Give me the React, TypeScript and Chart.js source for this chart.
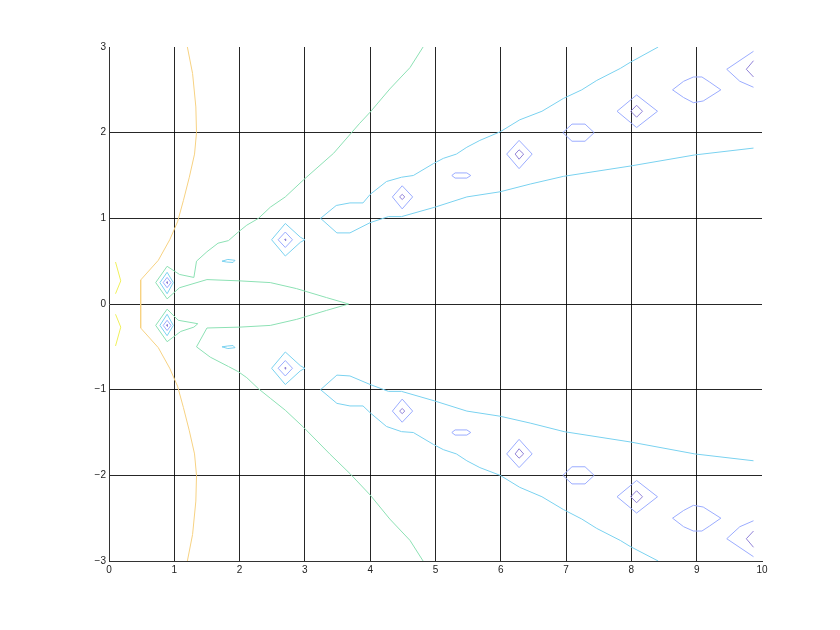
import React, { useEffect, useRef } from 'react';
import { Chart, registerables } from 'chart.js';
Chart.register(...registerables);

type Pt = [number, number];

const xTicks = [0, 1, 2, 3, 4, 5, 6, 7, 8, 9, 10];
const yTicks = [-3, -2, -1, 0, 1, 2, 3];

// ---- level: yellow ----
const yellowUpper: Pt[] = [[0.10, 0.49], [0.18, 0.27], [0.10, 0.12]];
const yellowLower: Pt[] = [[0.10, -0.12], [0.18, -0.27], [0.10, -0.49]];

// ---- level: orange ----
const orangeArc: Pt[] = [
  [1.20, 3.0], [1.28, 2.69], [1.33, 2.30], [1.34, 2.0], [1.31, 1.75], [1.23, 1.48],
  [1.14, 1.21], [1.05, 0.96], [0.93, 0.75], [0.755, 0.51], [0.485, 0.28],
  [0.485, -0.28], [0.755, -0.51], [0.93, -0.75], [1.05, -0.96], [1.14, -1.21],
  [1.23, -1.48], [1.31, -1.75], [1.34, -2.0], [1.33, -2.30], [1.28, -2.69], [1.20, -3.0],
];

// ---- level: green ----
const greenMain: Pt[] = [
  [4.81, 3.0], [4.61, 2.76], [4.30, 2.51], [4.0, 2.24], [3.84, 2.11], [3.44, 1.76],
  [2.98, 1.45], [2.70, 1.25], [2.47, 1.13], [2.29, 1.0], [2.11, 0.92], [1.98, 0.84],
  [1.83, 0.74], [1.67, 0.71], [1.50, 0.61], [1.34, 0.50], [1.30, 0.31], [1.08, 0.345],
  [0.89, 0.44], [0.715, 0.25], [0.89, 0.06], [1.08, 0.19], [1.50, 0.285], [2.0, 0.27],
  [2.47, 0.25], [2.87, 0.18], [3.33, 0.075], [3.67, 0.0], [3.33, -0.075], [2.87, -0.18],
  [2.47, -0.25], [2.0, -0.27], [1.50, -0.28], [1.34, -0.50], [1.55, -0.62], [1.83, -0.73],
  [1.98, -0.79], [2.11, -0.86], [2.29, -0.99], [2.47, -1.10], [2.70, -1.24], [2.98, -1.44],
  [3.38, -1.75], [3.69, -1.98], [4.0, -2.23], [4.30, -2.51], [4.61, -2.76], [4.81, -3.0],
];
const greenLowerLoop: Pt[] = [
  [0.89, -0.06], [1.06, -0.19], [1.36, -0.23], [1.30, -0.27], [1.10, -0.32],
  [0.89, -0.44], [0.715, -0.25], [0.89, -0.06],
];

// ---- level: cyan ----
const cyanTearUpper: Pt[] = [[1.73, 0.50], [1.82, 0.52], [1.93, 0.51], [1.90, 0.485], [1.80, 0.49], [1.73, 0.50]];
const cyanTearLower: Pt[] = [[1.73, -0.50], [1.82, -0.49], [1.90, -0.485], [1.93, -0.51], [1.82, -0.52], [1.73, -0.50]];
const cyanRingAUpper: Pt[] = [[0.89, 0.37], [0.985, 0.25], [0.89, 0.12], [0.78, 0.25], [0.89, 0.37]];
const cyanRingALower: Pt[] = [[0.89, -0.12], [0.985, -0.25], [0.89, -0.37], [0.78, -0.25], [0.89, -0.12]];
const cyanRingBUpper: Pt[] = [[2.70, 0.94], [2.93, 0.78], [3.0, 0.75], [2.93, 0.72], [2.70, 0.56], [2.49, 0.75], [2.70, 0.94]];
const cyanRingBLower: Pt[] = [[2.70, -0.56], [2.93, -0.72], [3.0, -0.75], [2.93, -0.78], [2.70, -0.94], [2.49, -0.75], [2.70, -0.56]];
const cyanBandUpper: Pt[] = [
  [8.41, 3.0], [7.98, 2.82], [7.83, 2.75], [7.47, 2.61], [7.24, 2.50], [6.96, 2.40],
  [6.63, 2.25], [6.29, 2.15], [5.99, 2.01], [5.68, 1.91], [5.48, 1.83], [5.32, 1.75],
  [5.12, 1.70], [4.97, 1.64], [4.66, 1.50], [4.48, 1.48], [4.25, 1.43], [4.0, 1.28],
  [3.89, 1.18], [3.69, 1.18], [3.48, 1.15], [3.24, 1.0], [3.49, 0.83], [3.69, 0.83],
  [4.0, 0.95], [4.28, 1.02], [4.48, 1.02], [4.99, 1.13], [5.48, 1.25], [5.99, 1.31],
  [6.45, 1.40], [6.96, 1.49], [7.98, 1.61], [8.97, 1.74], [9.87, 1.82],
];
const cyanBandLower: Pt[] = [
  [8.41, -3.0], [7.98, -2.83], [7.83, -2.76], [7.47, -2.62], [7.24, -2.51], [6.96, -2.40],
  [6.63, -2.25], [6.29, -2.14], [5.99, -2.0], [5.68, -1.91], [5.48, -1.83], [5.32, -1.75],
  [5.12, -1.70], [4.97, -1.64], [4.66, -1.50], [4.48, -1.49], [4.25, -1.43], [4.0, -1.27],
  [3.89, -1.19], [3.69, -1.19], [3.49, -1.16], [3.24, -1.0], [3.49, -0.83], [3.69, -0.84],
  [4.0, -0.94], [4.28, -1.02], [4.48, -1.02], [4.98, -1.13], [5.48, -1.25], [5.99, -1.31],
  [6.45, -1.39], [6.97, -1.49], [7.98, -1.61], [8.97, -1.75], [9.87, -1.83],
];

// ---- level: blue ----
const blueAUpper: Pt[] = [[0.89, 0.31], [0.95, 0.25], [0.89, 0.19], [0.83, 0.25], [0.89, 0.31]];
const blueALower: Pt[] = [[0.89, -0.19], [0.95, -0.25], [0.89, -0.31], [0.83, -0.25], [0.89, -0.19]];
const blueBUpper: Pt[] = [[2.70, 0.84], [2.81, 0.75], [2.70, 0.66], [2.59, 0.75], [2.70, 0.84]];
const blueBLower: Pt[] = [[2.70, -0.66], [2.81, -0.75], [2.70, -0.84], [2.59, -0.75], [2.70, -0.66]];
const blueCUpper: Pt[] = [[4.49, 1.38], [4.65, 1.25], [4.49, 1.11], [4.34, 1.25], [4.49, 1.38]];
const blueCLower: Pt[] = [[4.49, -1.11], [4.65, -1.25], [4.49, -1.38], [4.34, -1.25], [4.49, -1.11]];
const blueDUpper: Pt[] = [[5.25, 1.50], [5.30, 1.53], [5.48, 1.53], [5.54, 1.50], [5.48, 1.47], [5.30, 1.47], [5.25, 1.50]];
const blueDLower: Pt[] = [[5.25, -1.50], [5.30, -1.47], [5.48, -1.47], [5.54, -1.50], [5.48, -1.53], [5.30, -1.53], [5.25, -1.50]];
const blueEUpper: Pt[] = [[6.28, 1.91], [6.48, 1.75], [6.28, 1.58], [6.09, 1.75], [6.28, 1.91]];
const blueELower: Pt[] = [[6.28, -1.58], [6.48, -1.75], [6.28, -1.91], [6.09, -1.75], [6.28, -1.58]];
const blueFUpper: Pt[] = [[6.95, 2.0], [7.09, 2.10], [7.29, 2.10], [7.43, 2.0], [7.29, 1.90], [7.09, 1.90], [6.95, 2.0]];
const blueFLower: Pt[] = [[6.95, -2.0], [7.09, -1.90], [7.29, -1.90], [7.43, -2.0], [7.29, -2.10], [7.09, -2.10], [6.95, -2.0]];
const blueGUpper: Pt[] = [[8.08, 2.44], [8.40, 2.25], [8.08, 2.06], [7.78, 2.25], [8.08, 2.44]];
const blueGLower: Pt[] = [[8.08, -2.06], [8.40, -2.25], [8.08, -2.44], [7.78, -2.25], [8.08, -2.06]];
const blueHUpper: Pt[] = [[8.63, 2.50], [8.80, 2.60], [8.95, 2.65], [9.08, 2.65], [9.20, 2.59], [9.37, 2.50], [9.10, 2.37], [8.95, 2.35], [8.80, 2.41], [8.63, 2.50]];
const blueHLower: Pt[] = [[8.63, -2.50], [8.80, -2.41], [8.95, -2.35], [9.10, -2.37], [9.37, -2.50], [9.20, -2.59], [9.08, -2.65], [8.95, -2.65], [8.80, -2.60], [8.63, -2.50]];
const blueIUpper: Pt[] = [[9.87, 2.95], [9.46, 2.74], [9.66, 2.60], [9.87, 2.53]];
const blueILower: Pt[] = [[9.87, -2.53], [9.66, -2.60], [9.46, -2.74], [9.87, -2.95]];

// ---- level: purple ----
const purpleAUpper: Pt[] = [[0.89, 0.26], [0.90, 0.25], [0.89, 0.24], [0.88, 0.25], [0.89, 0.26]];
const purpleALower: Pt[] = [[0.89, -0.24], [0.90, -0.25], [0.89, -0.26], [0.88, -0.25], [0.89, -0.24]];
const purpleBUpper: Pt[] = [[2.70, 0.76], [2.71, 0.75], [2.70, 0.74], [2.69, 0.75], [2.70, 0.76]];
const purpleBLower: Pt[] = [[2.70, -0.74], [2.71, -0.75], [2.70, -0.76], [2.69, -0.75], [2.70, -0.74]];
const purpleCUpper: Pt[] = [[4.49, 1.28], [4.53, 1.25], [4.49, 1.22], [4.45, 1.25], [4.49, 1.28]];
const purpleCLower: Pt[] = [[4.49, -1.22], [4.53, -1.25], [4.49, -1.28], [4.45, -1.25], [4.49, -1.22]];
const purpleEUpper: Pt[] = [[6.28, 1.80], [6.35, 1.75], [6.28, 1.69], [6.22, 1.75], [6.28, 1.80]];
const purpleELower: Pt[] = [[6.28, -1.69], [6.35, -1.75], [6.28, -1.80], [6.22, -1.75], [6.28, -1.69]];
const purpleGUpper: Pt[] = [[8.08, 2.32], [8.17, 2.25], [8.08, 2.18], [7.99, 2.25], [8.08, 2.32]];
const purpleGLower: Pt[] = [[8.08, -2.18], [8.17, -2.25], [8.08, -2.32], [7.99, -2.25], [8.08, -2.18]];
const purpleIUpper: Pt[] = [[9.87, 2.84], [9.76, 2.74], [9.87, 2.65]];
const purpleILower: Pt[] = [[9.87, -2.65], [9.76, -2.74], [9.87, -2.84]];

const levels: { color: string; lines: Pt[][] }[] = [
  { color: 'rgb(240,240,90)', lines: [yellowUpper, yellowLower] },
  { color: 'rgb(247,210,130)', lines: [orangeArc] },
  { color: 'rgb(140,225,180)', lines: [greenMain, greenLowerLoop] },
  {
    color: 'rgb(122,210,240)',
    lines: [cyanTearUpper, cyanTearLower, cyanRingAUpper, cyanRingALower, cyanRingBUpper, cyanRingBLower, cyanBandUpper, cyanBandLower],
  },
  {
    color: 'rgb(155,172,255)',
    lines: [blueAUpper, blueALower, blueBUpper, blueBLower, blueCUpper, blueCLower, blueDUpper, blueDLower,
      blueEUpper, blueELower, blueFUpper, blueFLower, blueGUpper, blueGLower, blueHUpper, blueHLower, blueIUpper, blueILower],
  },
  {
    color: 'rgb(145,130,215)',
    lines: [purpleAUpper, purpleALower, purpleBUpper, purpleBLower, purpleCUpper, purpleCLower,
      purpleEUpper, purpleELower, purpleGUpper, purpleGLower, purpleIUpper, purpleILower],
  },
];

const GRID = 'rgba(0,0,0,0.85)';
const NONE = 'rgba(0,0,0,0)';
const FONT = { family: "'Liberation Sans', Arial, sans-serif", size: 10 };
const fmt = (v: number) => (v < 0 ? '\u2212' + Math.abs(v) : String(v));

export default function App() {
  const ref = useRef<HTMLCanvasElement>(null);
  useEffect(() => {
    const datasets = levels.flatMap((l) =>
      l.lines.map((line) => ({
        data: line.map(([x, y]) => ({ x, y })),
        showLine: true,
        borderColor: l.color,
        backgroundColor: l.color,
        borderWidth: 1,
        pointRadius: 0,
        pointHoverRadius: 0,
        fill: false,
        tension: 0,
      }))
    );
    const chart = new Chart(ref.current as HTMLCanvasElement, {
      type: 'scatter',
      data: { datasets },
      options: {
        animation: false,
        responsive: false,
        devicePixelRatio: 1,
        events: [],
        layout: { padding: { left: 0, top: 47, right: 78, bottom: 39 } },
        plugins: { legend: { display: false }, tooltip: { enabled: false } },
        scales: {
          x: {
            type: 'linear',
            min: xTicks[0],
            max: xTicks[xTicks.length - 1],
            afterBuildTicks: (s: any) => { s.ticks = xTicks.map((v) => ({ value: v })); },
            afterFit: (s: any) => { s.height = 30; },
            ticks: { color: '#222', font: FONT, padding: 3, maxRotation: 0, autoSkip: false, callback: (v: any) => fmt(Number(v)) },
            grid: {
              drawTicks: false,
              lineWidth: 1,
              color: (ctx: any) => (ctx.tick && (ctx.tick.value === 0 || ctx.tick.value === 10) ? NONE : GRID),
            },
            border: { display: true, color: '#333', width: 1 },
          },
          y: {
            type: 'linear',
            min: yTicks[0],
            max: yTicks[yTicks.length - 1],
            afterBuildTicks: (s: any) => { s.ticks = yTicks.map((v) => ({ value: v })); },
            afterFit: (s: any) => { s.width = 109; },
            ticks: { color: '#222', font: FONT, padding: 3, autoSkip: false, callback: (v: any) => fmt(Number(v)) },
            grid: {
              drawTicks: false,
              lineWidth: 1,
              color: (ctx: any) => (ctx.tick && (ctx.tick.value === -3 || ctx.tick.value === 3) ? NONE : GRID),
            },
            border: { display: true, color: '#333', width: 1 },
          },
        },
      },
    } as any);
    return () => chart.destroy();
  }, []);
  return (
    <div style={{ position: 'absolute', left: 0, top: 0, width: 840, height: 630, background: '#fff' }}>
      <canvas ref={ref} width={840} height={630} style={{ display: 'block' }} />
    </div>
  );
}
